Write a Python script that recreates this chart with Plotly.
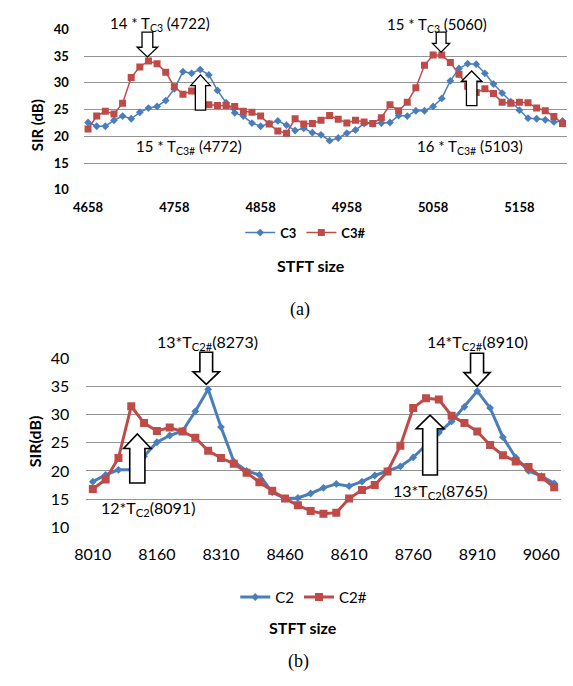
import plotly.graph_objects as go

W, H = 573, 686

# ---------------- data (a) ----------------
stft_a = list(range(4658, 5209, 10))
a_ticks = [4658, 4758, 4858, 4958, 5058, 5158]
sir_c3 = [22.6, 21.9, 21.9, 23.0, 23.8, 23.3, 24.5, 25.3, 25.6, 26.7,
          28.9, 32.1, 31.8, 32.5, 31.5, 28.6, 26.3, 24.4, 23.8, 22.5,
          21.9, 22.4, 22.9, 22.1, 21.1, 21.5, 20.7, 20.3, 19.2, 19.7,
          20.6, 21.2, 22.4, 22.4, 22.5, 22.6, 23.9, 23.8, 24.8, 24.8,
          25.6, 27.1, 30.4, 32.7, 33.6, 33.5, 31.8, 29.8, 28.1, 26.5,
          24.9, 23.4, 23.3, 23.1, 22.7, 22.9]
sir_c3s = [21.4, 23.8, 24.7, 24.2, 26.2, 31.0, 33.0, 34.1, 33.6, 32.0,
           29.3, 27.9, 28.5, 27.0, 25.9, 25.8, 25.8, 25.6, 24.7, 24.5,
           23.8, 22.3, 21.0, 20.6, 23.3, 22.3, 22.4, 23.0, 23.9, 23.2,
           22.5, 23.0, 22.7, 22.4, 23.5, 25.9, 24.8, 26.4, 29.1, 33.3,
           35.2, 35.2, 33.8, 31.6, 29.4, 28.2, 28.9, 28.0, 26.4, 26.2,
           26.4, 26.3, 25.3, 24.8, 23.7, 22.4]

# ---------------- data (b) ----------------
stft_b = list(range(8010, 9091, 30))
b_ticks = [8010, 8160, 8310, 8460, 8610, 8760, 8910, 9060]
sir_c2 = [18.1, 19.3, 20.2, 20.2, 22.6, 25.1, 26.3, 27.1, 30.6, 34.5,
          27.8, 21.7, 20.0, 19.3, 16.2, 15.1, 15.2, 16.0, 17.0, 17.7,
          17.3, 18.1, 19.2, 20.0, 20.8, 22.4, 24.6, 26.8, 28.8, 31.4,
          34.2, 31.2, 26.0, 22.4, 20.0, 19.1, 17.8]
sir_c2s = [16.8, 18.5, 22.3, 31.5, 28.5, 27.1, 27.7, 27.0, 25.9, 23.6,
           22.3, 21.3, 19.7, 18.0, 16.5, 15.1, 13.9, 12.9, 12.4, 12.6,
           15.1, 16.6, 17.5, 19.9, 24.5, 31.2, 32.9, 32.7, 29.8, 28.5,
           27.0, 24.6, 22.8, 21.7, 20.7, 18.9, 17.1]
y_ticks = [10, 15, 20, 25, 30, 35, 40]

BLUE = "#4A7EBB"
RED = "#BE4B48"
FONT = "Lato"


def px(x):
    return x / W


def py(y):
    return 1 - y / H


fig = go.Figure()
fig.add_trace(go.Scatter(x=stft_a, y=sir_c3, name="C3", mode="lines+markers",
                         line=dict(color=BLUE, width=1.5),
                         marker=dict(symbol="diamond", size=6, color=BLUE),
                         xaxis="x", yaxis="y", legend="legend"))
fig.add_trace(go.Scatter(x=stft_a, y=sir_c3s, name="C3#", mode="lines+markers",
                         line=dict(color=RED, width=1.5),
                         marker=dict(symbol="square", size=7, color=RED),
                         xaxis="x", yaxis="y", legend="legend"))
fig.add_trace(go.Scatter(x=stft_b, y=sir_c2, name="C2", mode="lines+markers",
                         line=dict(color=BLUE, width=3),
                         marker=dict(symbol="diamond", size=6, color=BLUE),
                         xaxis="x2", yaxis="y2", legend="legend2"))
fig.add_trace(go.Scatter(x=stft_b, y=sir_c2s, name="C2#", mode="lines+markers",
                         line=dict(color=RED, width=3),
                         marker=dict(symbol="square", size=8, color=RED),
                         xaxis="x2", yaxis="y2", legend="legend2"))

grid = "#939393"
fig.update_layout(
    width=W, height=H, margin=dict(l=0, r=0, t=0, b=0),
    paper_bgcolor="white", plot_bgcolor="white",
    font=dict(family=FONT, color="black"),
    xaxis=dict(domain=[px(73.3), px(566.7)], range=[4653, 5213],
               tickvals=a_ticks, ticktext=[str(t) for t in a_ticks],
               showgrid=False, zeroline=False, showline=False, ticks="",
               tickfont=dict(family=FONT, size=13, weight="bold"),
               ticklabelstandoff=8, anchor="y"),
    yaxis=dict(domain=[py(185), py(20)], range=[10, 40], tickvals=y_ticks,
               showgrid=True, gridcolor=grid, gridwidth=1, zeroline=False,
               showline=False, ticks="",
               tickfont=dict(family=FONT, size=13, weight="bold"),
               ticklabelstandoff=14, anchor="x"),
    xaxis2=dict(domain=[px(76), px(560.3)], range=[7995, 9105],
                tickvals=b_ticks, ticktext=[str(t) for t in b_ticks],
                showgrid=False, zeroline=False, showline=False, ticks="",
                tickfont=dict(family=FONT, size=16),
                ticklabelstandoff=16, anchor="y2"),
    yaxis2=dict(domain=[py(532), py(358.3)], range=[10, 40], tickvals=y_ticks,
                showgrid=True, gridcolor=grid, gridwidth=1, zeroline=False,
                showline=False, ticks="",
                tickfont=dict(family=FONT, size=16),
                ticklabelstandoff=16, anchor="x2"),
    legend=dict(orientation="h", x=px(300), y=py(229), xanchor="center",
                yanchor="middle", font=dict(family=FONT, size=13, weight="bold"),
                bgcolor="rgba(0,0,0,0)", itemwidth=30),
    legend2=dict(orientation="h", x=px(298), y=py(604), xanchor="center",
                 yanchor="middle", font=dict(family=FONT, size=15),
                 bgcolor="rgba(0,0,0,0)", itemwidth=30),
    showlegend=True,
)

ann = []


def text(xc, yc, s, size, bold=False, family=FONT, angle=0):
    ann.append(dict(x=px(xc), y=py(yc), xref="paper", yref="paper", text=s,
                    showarrow=False, xanchor="center", yanchor="middle",
                    textangle=angle,
                    font=dict(family=family, size=size, color="black",
                              weight="bold" if bold else "normal")))


# axis titles, captions
text(25, 118, "SIR (dB)", 15, bold=True, angle=-90)
text(305, 263, "STFT size", 16, bold=True)
text(294, 308, "(a)", 18, family="Liberation Serif")
text(23, 444, "SIR(dB)", 16, bold=True, angle=-90)
text(297, 635, "STFT size", 16, bold=True)
text(293, 670, "(b)", 18, family="Liberation Serif")

# peak labels
text(151, 14, "14 * T<sub>C3</sub> (4722)", 15)
text(181, 141, "15 * T<sub>C3#</sub> (4772)", 15)
text(434.5, 15, "15 * T<sub>C3</sub> (5060)", 15)
text(467.5, 141, "16 * T<sub>C3#</sub> (5103)", 15)
text(200, 342, "13*T<sub>C2#</sub>(8273)", 16)
text(138.5, 513, "12*T<sub>C2</sub>(8091)", 16)
text(475, 342, "14*T<sub>C2#</sub>(8910)", 16)
text(437.5, 495, "13*T<sub>C2</sub>(8765)", 16)

fig.update_layout(annotations=ann)

shapes = []


def block_arrow(cx, tip_y, head_y, end_y, hw, sw, lw):
    pts = [(cx - sw / 2, end_y), (cx + sw / 2, end_y), (cx + sw / 2, head_y),
           (cx + hw / 2, head_y), (cx, tip_y), (cx - hw / 2, head_y),
           (cx - sw / 2, head_y)]
    path = "M " + " L ".join(f"{px(x):.5f},{py(y):.5f}" for x, y in pts) + " Z"
    shapes.append(dict(type="path", path=path, xref="paper", yref="paper",
                       fillcolor="white", line=dict(color="black", width=lw),
                       layer="above"))


block_arrow(138.3, 48.3, 38.3, 22.7, 21, 11, 1.3)
block_arrow(192.5, 66.7, 77.7, 103, 20, 10.5, 1.3)
block_arrow(438.3, 43.3, 34.3, 22.7, 17.5, 10, 1.3)
block_arrow(469.5, 62.7, 73.3, 98.3, 20.7, 10.7, 1.3)
block_arrow(198.4, 385, 372, 352, 27, 13, 1.6)
block_arrow(128, 436, 451, 486.5, 28, 15.5, 1.6)
block_arrow(475, 387, 373, 353, 26.7, 13.3, 1.6)
block_arrow(427, 416.7, 430.7, 478.3, 28.3, 15, 1.6)

fig.update_layout(shapes=shapes)

fig.write_html(
    "out.html",
    config={"displayModeBar": False},
    post_script="document.body.style.margin='0';"
                "document.body.style.overflow='hidden';",
)
